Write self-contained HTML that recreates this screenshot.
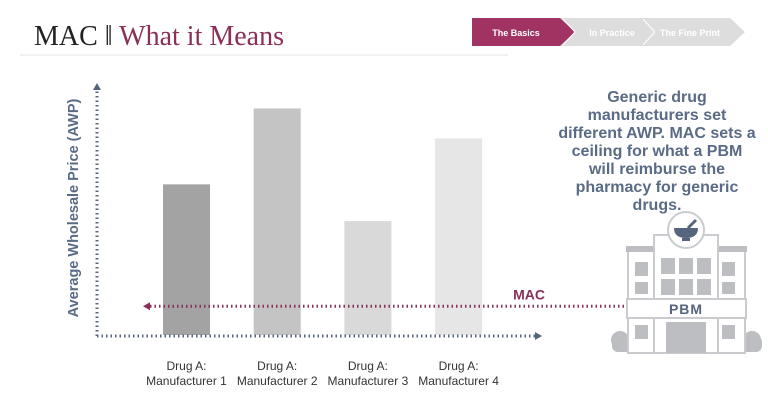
<!DOCTYPE html>
<html><head><meta charset="utf-8"><style>
body{margin:0;width:768px;height:400px;background:#fff;overflow:hidden;font-family:"Liberation Sans",sans-serif}
</style></head><body>
<svg width="768" height="400" viewBox="0 0 768 400" xmlns="http://www.w3.org/2000/svg">
<text x="34" y="45" font-family="Liberation Serif,serif" font-size="28" fill="#222">MAC ‖ <tspan fill="#8a2f58">What it Means</tspan></text>
<line x1="20" y1="55" x2="508" y2="55" stroke="#e4e4e4" stroke-width="1"/>
<g>
<polygon points="602,18 650,18 665,32 650,46 602,46 617,32" fill="#ddd"/>
<polygon points="555,18 603,18 618,32 603,46 555,46 570,32" fill="#ddd"/>
<polygon points="472,18 560,18 575,32 560,46 472,46" fill="#a03362"/>
<polygon points="645,18 730,18 745,32 730,46 645,46 660,32" fill="#ddd"/>
<polygon points="570,18 640,18 655,32 640,46 570,46 585,32" fill="#ddd"/>
<line x1="575" y1="32" x2="563" y2="19" stroke="#fff"/><line x1="575" y1="32" x2="563" y2="45" stroke="#fff"/>
<line x1="655" y1="32" x2="643" y2="19" stroke="#fff"/><line x1="655" y1="32" x2="643" y2="45" stroke="#fff"/>
<text x="516" y="36" font-size="9" font-weight="bold" fill="#fff" text-anchor="middle">The Basics</text>
<text x="612" y="36" font-size="9" font-weight="bold" fill="#fff" text-anchor="middle">In Practice</text>
<text x="690" y="36" font-size="9" font-weight="bold" fill="#fff" text-anchor="middle">The Fine Print</text>
</g>
<g id="chart"></g>
<text x="78" y="208" transform="rotate(-90 78 208)" text-anchor="middle" font-size="14.5" font-weight="bold" fill="#5a6b85">Average Wholesale Price (AWP)</text>
<g font-size="16" font-weight="bold" fill="#5a6b85" text-anchor="middle">
<text x="657" y="102">Generic drug</text><text x="657" y="120">manufacturers set</text><text x="657" y="138">different AWP. MAC sets a</text><text x="657" y="156">ceiling for what a PBM</text><text x="657" y="174">will reimburse the</text><text x="657" y="192">pharmacy for generic</text><text x="657" y="210">drugs.</text>
</g>
<g>
<circle cx="620" cy="340" r="9" fill="#bcbec2"/><circle cx="752" cy="340" r="9" fill="#bcbec2"/>
<rect x="612" y="336" width="150" height="16" rx="6" fill="#bcbec2"/>
<rect x="628" y="248" width="117" height="105" fill="#fff" stroke="#c9cbcf" stroke-width="2"/>
<rect x="626" y="246" width="121" height="6" fill="#bcbec2"/>
<rect x="654" y="235" width="64" height="118" fill="#fff" stroke="#c9cbcf" stroke-width="2"/>
<circle cx="686" cy="230" r="18" fill="#fff" stroke="#c9cbcf" stroke-width="2"/>
<path d="M674 228 h24 q0 10 -12 10 q-12 0 -12 -10z" fill="#56657e"/><rect x="682" y="238" width="8" height="3" fill="#56657e"/><line x1="688" y1="228" x2="696" y2="220" stroke="#56657e" stroke-width="3"/>
<g fill="#bcbec2">
<rect x="635" y="262" width="13" height="14"/><rect x="635" y="282" width="13" height="12"/><rect x="722" y="262" width="13" height="14"/><rect x="722" y="282" width="13" height="12"/>
<rect x="661" y="258" width="14" height="16"/><rect x="679" y="258" width="14" height="16"/><rect x="697" y="258" width="14" height="16"/>
<rect x="661" y="279" width="14" height="16"/><rect x="679" y="279" width="14" height="16"/><rect x="697" y="279" width="14" height="16"/>
<rect x="635" y="325" width="13" height="14"/><rect x="722" y="325" width="13" height="14"/><rect x="666" y="322" width="40" height="31"/>
</g>
<rect x="627" y="299" width="119" height="19" fill="#fff" stroke="#c9cbcf" stroke-width="2"/>
<text x="686" y="314" text-anchor="middle" font-size="14" font-weight="bold" fill="#56657e" letter-spacing="1">PBM</text>
</g>
</svg>
<script>
const categories=["Drug A:|Manufacturer 1","Drug A:|Manufacturer 2","Drug A:|Manufacturer 3","Drug A:|Manufacturer 4"];
const awpValues=[65.5,98.5,49.5,85.5];
const macValue=12.5;
const barColors=["#a3a3a3","#c4c4c4","#d9d9d9","#e6e6e6"];
const NS="http://www.w3.org/2000/svg";
const g=document.getElementById('chart');
const y0=335,yTop=105,yMax=100;
function yS(v){return y0-(v/yMax)*(y0-yTop);}
function xS(i){return 163+i*90.7;}
const bw=47;
function mk(t,a){const e=document.createElementNS(NS,t);for(const k in a)e.setAttribute(k,a[k]);g.appendChild(e);return e;}
awpValues.forEach((v,i)=>{
 const r=mk('rect',{x:xS(i),y:yS(v),width:bw,height:y0-yS(v),fill:barColors[i]});
 
 
 const parts=categories[i].split('|');
 parts.forEach((p,j)=>{const t=mk('text',{x:xS(i)+bw/2,y:370+j*15,'text-anchor':'middle','font-size':'12',fill:'#333'});t.textContent=p;
 
 });
});
const ya=mk('line',{x1:97,y1:336,x2:97,y2:90,stroke:'#56657e','stroke-width':3,'stroke-dasharray':'1.5 3'});


mk('polygon',{points:'93,90 101,90 97,83',fill:'#56657e'});
const xa=mk('line',{x1:97,y1:336,x2:535,y2:336,stroke:'#56657e','stroke-width':3,'stroke-dasharray':'1.5 3'});


mk('polygon',{points:'535,332 535,340 542,336',fill:'#56657e'});
const my=yS(macValue);
const ml=mk('line',{x1:150,y1:my,x2:626,y2:my,stroke:'#8a2f58','stroke-width':3,'stroke-dasharray':'1.5 3'});


mk('polygon',{points:`150,${my-4} 150,${my+4} 143,${my}`,fill:'#8a2f58'});
const mt=mk('text',{x:545,y:my-7,'text-anchor':'end','font-size':'14','font-weight':'bold',fill:'#8a2f58'});
mt.textContent='MAC';


</script>
</body></html>
